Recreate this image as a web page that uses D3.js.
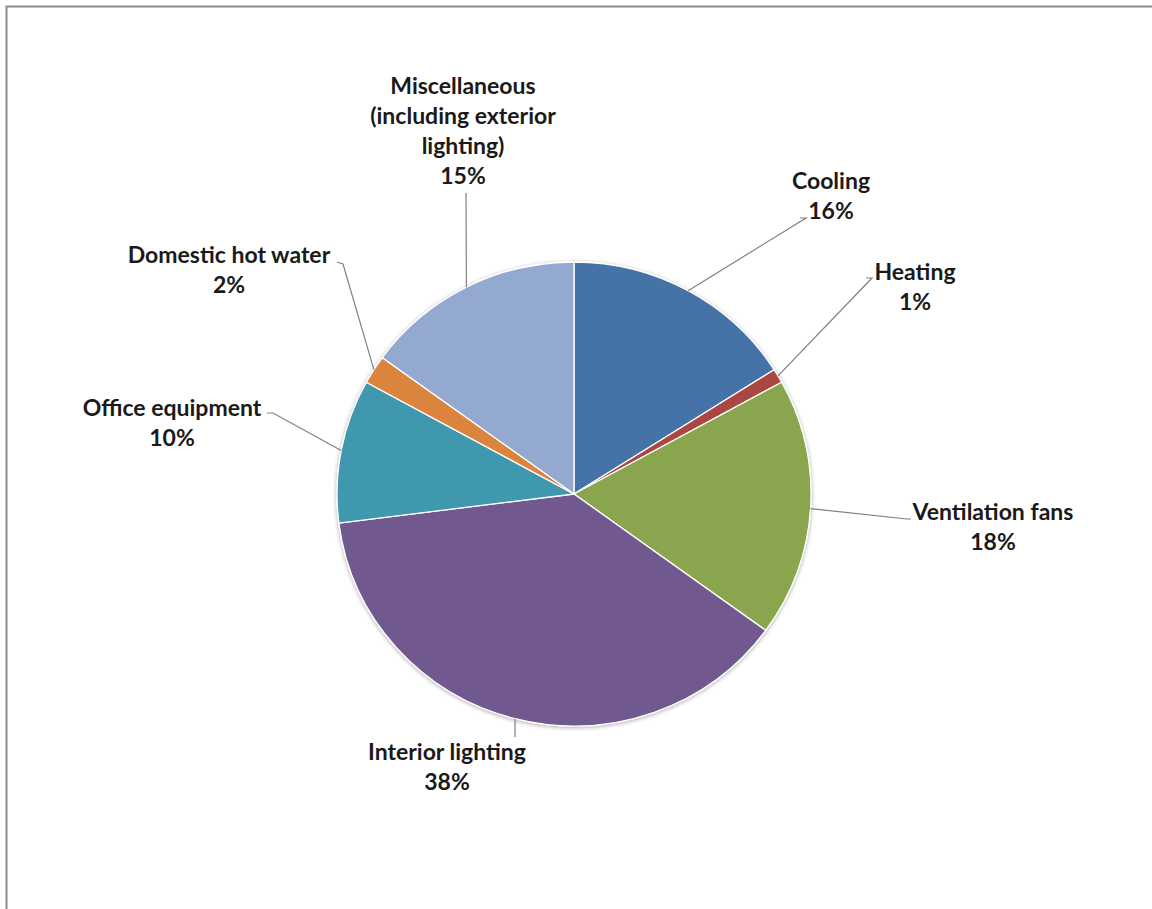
<!DOCTYPE html>
<html><head><meta charset="utf-8">
<script src="https://cdn.jsdelivr.net/npm/d3@7"></script>
<style>html,body{margin:0;padding:0;background:#fff;}svg{display:block;}</style>
</head><body>
<script>
const categories = ["Cooling","Heating","Ventilation fans","Interior lighting","Office equipment","Domestic hot water","Miscellaneous (including exterior lighting)"];
const values = [16,1,18,38,10,2,15];
const labelLines = [["Cooling"],["Heating"],["Ventilation fans"],["Interior lighting"],["Office equipment"],["Domestic hot water"],["Miscellaneous","(including exterior","lighting)"]];
const colors = ["#4572A7","#AA4643","#89A54E","#71588F","#4198AF","#DB843D","#93A9CF"];

// layout (label anchor = center of first text line; leader bend point)
const layout = [
  {lx:831, ly:181, bend:[806,218], end:[800,218]},
  {lx:915, ly:272, bend:[872,278], end:[866,278]},
  {lx:993, ly:512, bend:[907,519], end:[911,519]},
  {lx:447, ly:752, bend:[515,737], end:null},
  {lx:172, ly:408, bend:[273,413], end:[267,413]},
  {lx:229, ly:255, bend:[343,264], end:[337,262]},
  {lx:463, ly:86,  bend:[466,193], end:null}
];

const W=1152,H=909,cx=574,cy=494,R=237,sy=232/237;
const svg=d3.select("body").append("svg").attr("width",W).attr("height",H);
svg.append("rect").attr("x",6.5).attr("y",6.5).attr("width",W+10).attr("height",H+10)
  .attr("fill","#fff").attr("stroke","#8c8c8c").attr("stroke-width",2);

const defs=svg.append("defs");
const f=defs.append("filter").attr("id","sh").attr("x","-10%").attr("y","-10%").attr("width","120%").attr("height","120%");
f.append("feGaussianBlur").attr("in","SourceAlpha").attr("stdDeviation",2).attr("result","b");
f.append("feOffset").attr("in","b").attr("dx",0).attr("dy",1.5).attr("result","o");
f.append("feComponentTransfer").attr("in","o").attr("result","o2").append("feFuncA").attr("type","linear").attr("slope",0.35);
const m=f.append("feMerge"); m.append("feMergeNode").attr("in","o2"); m.append("feMergeNode").attr("in","SourceGraphic");

const pie=d3.pie().sort(null).value(d=>d)(values);
const arc=d3.arc().innerRadius(0).outerRadius(R);
const g=svg.append("g").attr("transform",`translate(${cx},${cy}) scale(1,${sy})`);
g.append("g").attr("filter","url(#sh)").selectAll("path").data(pie).join("path")
  .attr("d",arc).attr("fill",(d,i)=>colors[i]).attr("stroke","#fff").attr("stroke-width",1.3);

// leader lines
pie.forEach((d,i)=>{
  const a=(d.startAngle+d.endAngle)/2;
  const px=cx+R*Math.sin(a), py=cy-R*sy*Math.cos(a);
  const L=layout[i];
  const pts=[[px,py],L.bend]; if(L.end) pts.push(L.end);
  svg.append("path").attr("d",d3.line()(pts)).attr("fill","none").attr("stroke","#808080").attr("stroke-width",1.2);
});

// labels
const tot=d3.sum(values);
pie.forEach((d,i)=>{
  const L=layout[i];
  const lines=labelLines[i].concat([Math.round(values[i]/tot*100)+"%"]);
  const t=svg.append("text").attr("text-anchor","middle")
    .attr("font-family","Lato, 'Open Sans', sans-serif").attr("font-weight","bold")
    .attr("font-size",23).attr("fill","#1a1a1a");
  lines.forEach((s,k)=>t.append("tspan").attr("x",L.lx).attr("y",L.ly+k*30).attr("dy","0.35em").text(s));
});
</script>
</body></html>
